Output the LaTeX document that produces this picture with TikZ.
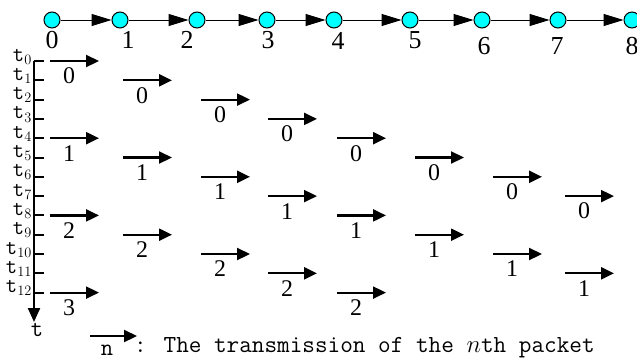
\documentclass[tikz,border=0pt]{standalone}
\usepackage{fontspec}
\setmainfont{Liberation Serif}
\usetikzlibrary{arrows.meta}
\definecolor{aqua}{rgb}{0,1,1}
\tikzset{
  hop/.style={circle,draw,fill=aqua,minimum size=16bp,inner sep=0pt,line width=1bp},
  link/.style={line width=1bp,-{Triangle[length=20bp,width=12bp]}},
  pkt/.style={line width=2.2bp,-{Triangle[length=13bp,width=12bp]}},
  axis/.style={line width=2.2bp,-{Triangle[length=14bp,width=12bp]}},
  num/.style={inner sep=0pt,font=\fontsize{24}{24}\selectfont},
  mono/.style={inner sep=0pt,font=\fontsize{22}{22}\selectfont\ttfamily},
}
\begin{document}
\begin{tikzpicture}[x=1bp,y=-1bp]
  \useasboundingbox (0,0) rectangle (637,360);
  \foreach \i/\x/\lx/\ly in {0/52/52/40,1/120/128/40,2/197/187/40,3/267/268/40,
      4/334/338/41,5/410/415/40,6/482/484/46,7/558/557/46,8/632/632/46}{
    \node[hop] (v\i) at (\x,20) {};
    \node[num,font=\fontsize{26}{26}\selectfont] (l\i) at (\lx,\ly) {\i};
  }
  \foreach \i [count=\j] in {0,...,7}
    \draw[link] (v\i) -- (v\j);

  \coordinate (top) at (34,61);
  \coordinate (bot) at (34,322);
  \draw[axis] (top) -- (bot);
  \node[mono,font=\fontsize{24}{24}\selectfont\ttfamily] (tl) at (37,330) {t};
  \foreach \i in {0,...,12}{
    \draw[line width=2bp] (34,{61+19.3*\i}) -- ++(10,0);
    \node[mono,anchor=base east] (t\i) at (32,{61+19.3*\i}) {t$_{\i}$};
  }
  \foreach \k/\sx in {0/50,1/123,2/201,3/268,4/337,5/415,6/493,7/565}
    \foreach \n in {0,...,3}{
      \pgfmathtruncatemacro\ti{\k+4*\n}
      \ifnum\ti<13
        \draw[pkt] (\sx,{61+19.3*\ti}) -- ++(49,0);
        \node[num] (p\k\n) at ({\sx+19},{76+19.3*\ti}) {\n};
      \fi
    }

  \coordinate (ka) at (90,336);
  \coordinate (kb) at (137,336);
  \draw[pkt] (ka) -- (kb);
  \node[mono,font=\fontsize{24}{24}\selectfont\ttfamily] (kn) at (107,350) {n};
  \node[mono,anchor=base west,font=\fontsize{24.6}{24.6}\selectfont\ttfamily] (key) at (134,352)
    {: The transmission of the $n$th packet};
\end{tikzpicture}
\end{document}
